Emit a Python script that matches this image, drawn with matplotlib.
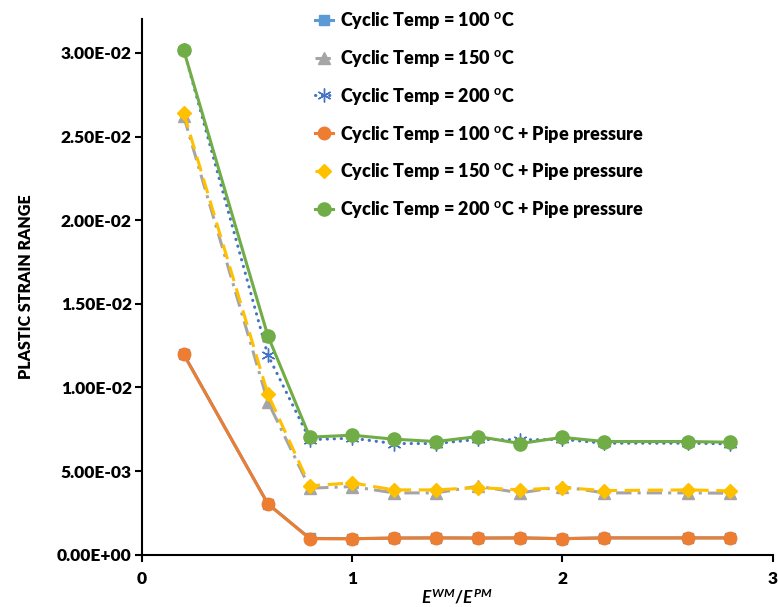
#!/usr/bin/env python3
# -*- coding: utf-8 -*-
"""
Plastic strain range vs modulus ratio, recreated from the Excel chart.
"""

import numpy as np
from matplotlib import pyplot as plt

plt.rcParams['font.family'] = ['Lato', 'DejaVu Sans']
plt.rcParams['font.weight'] = 'bold'
plt.rcParams['mathtext.fontset'] = 'custom'
plt.rcParams['mathtext.rm'] = 'Lato:bold'
plt.rcParams['mathtext.bf'] = 'Lato:bold'
plt.rcParams['mathtext.it'] = 'Lato:italic:bold'

# E_WM / E_PM
ratio = [0.2, 0.6, 0.8, 1.0, 1.2, 1.4, 1.6, 1.8, 2.0, 2.2, 2.6, 2.8]

# plastic strain range
t100 = [0.01199, 0.00305, 0.00098, 0.00096, 0.00100, 0.00101,
        0.00100, 0.00101, 0.00097, 0.00101, 0.00101, 0.00101]
t150 = [0.02622, 0.00916, 0.00398, 0.00408, 0.00370, 0.00370,
        0.00410, 0.00370, 0.00408, 0.00370, 0.00370, 0.00368]
t200 = [0.03020, 0.01195, 0.00688, 0.00697, 0.00665, 0.00665,
        0.00690, 0.00687, 0.00690, 0.00667, 0.00667, 0.00663]
t100_p = [0.01199, 0.00305, 0.00096, 0.00096, 0.00100, 0.00101,
          0.00100, 0.00101, 0.00096, 0.00101, 0.00101, 0.00101]
t150_p = [0.02642, 0.00962, 0.00412, 0.00430, 0.00388, 0.00388,
          0.00402, 0.00388, 0.00402, 0.00384, 0.00388, 0.00382]
t200_p = [0.03017, 0.01310, 0.00703, 0.00715, 0.00691, 0.00677,
          0.00707, 0.00665, 0.00702, 0.00677, 0.00677, 0.00673]

deg = '$^{\\mathbf{o}}$C'
labels = ['Cyclic Temp = 100 ' + deg,
          'Cyclic Temp = 150 ' + deg,
          'Cyclic Temp = 200 ' + deg,
          'Cyclic Temp = 100 ' + deg + ' + Pipe pressure',
          'Cyclic Temp = 150 ' + deg + ' + Pipe pressure',
          'Cyclic Temp = 200 ' + deg + ' + Pipe pressure']

fig = plt.figure(figsize=(7.78, 6.07), dpi=100)
ax = fig.add_axes([0.182, 0.086, 0.811, 0.882])

lw = 2.2
ax.plot(ratio, t100, color='#5B9BD5', lw=lw, marker='s', ms=7,
        label=labels[0])
ax.plot(ratio, t150, color='#A5A5A5', lw=lw, marker='^', ms=8,
        ls=(0, (5, 2, 1, 2)), label=labels[1])
ax.plot(ratio, t200, color='#4472C4', lw=2.2, marker=(6, 2, 0), ms=10,
        mew=1.0, ls=(0, (0.1, 2.2)), dash_capstyle='round',
        label=labels[2])
ax.plot(ratio, t100_p, color='#ED7D31', lw=lw, marker='o', ms=9,
        label=labels[3])
ax.plot(ratio, t150_p, color='#FFC000', lw=lw, marker='D', ms=7,
        ls=(0, (5, 2.5)), label=labels[4])
ax.plot(ratio, t200_p, color='#70AD47', lw=lw, marker='o', ms=9.5,
        label=labels[5])

ax.set_xlim(0, 3)
ax.set_ylim(0, 0.032)
ax.set_xticks([0, 1, 2, 3])
yt = np.arange(0, 0.0301, 0.005)
ax.set_yticks(yt)
ax.set_yticklabels(['{:.2E}'.format(v) for v in yt])
ax.tick_params(labelsize=12.5, width=1.5, length=5, direction='out')
ax.tick_params(axis='y', pad=2)
ax.tick_params(axis='x', pad=7)
for lab in ax.get_xticklabels() + ax.get_yticklabels():
    lab.set_fontweight('heavy')
for s in ['top', 'right']:
    ax.spines[s].set_visible(False)
for s in ['left', 'bottom']:
    ax.spines[s].set_linewidth(1.5)

ax.set_xlabel('$E^{WM}/E^{PM}$', fontsize=12.5, labelpad=0)
ax.set_ylabel('PLASTIC STRAIN RANGE', fontsize=11.5, fontweight='heavy',
              labelpad=17)

leg = ax.legend(loc='upper left', bbox_to_anchor=(0.384, 1.01),
                bbox_transform=fig.transFigure, frameon=False,
                fontsize=13, handlelength=1.0, handletextpad=0.4,
                labelspacing=0.93)
for t in leg.get_texts():
    t.set_fontweight('heavy')

plt.savefig('out.png', dpi=100)
